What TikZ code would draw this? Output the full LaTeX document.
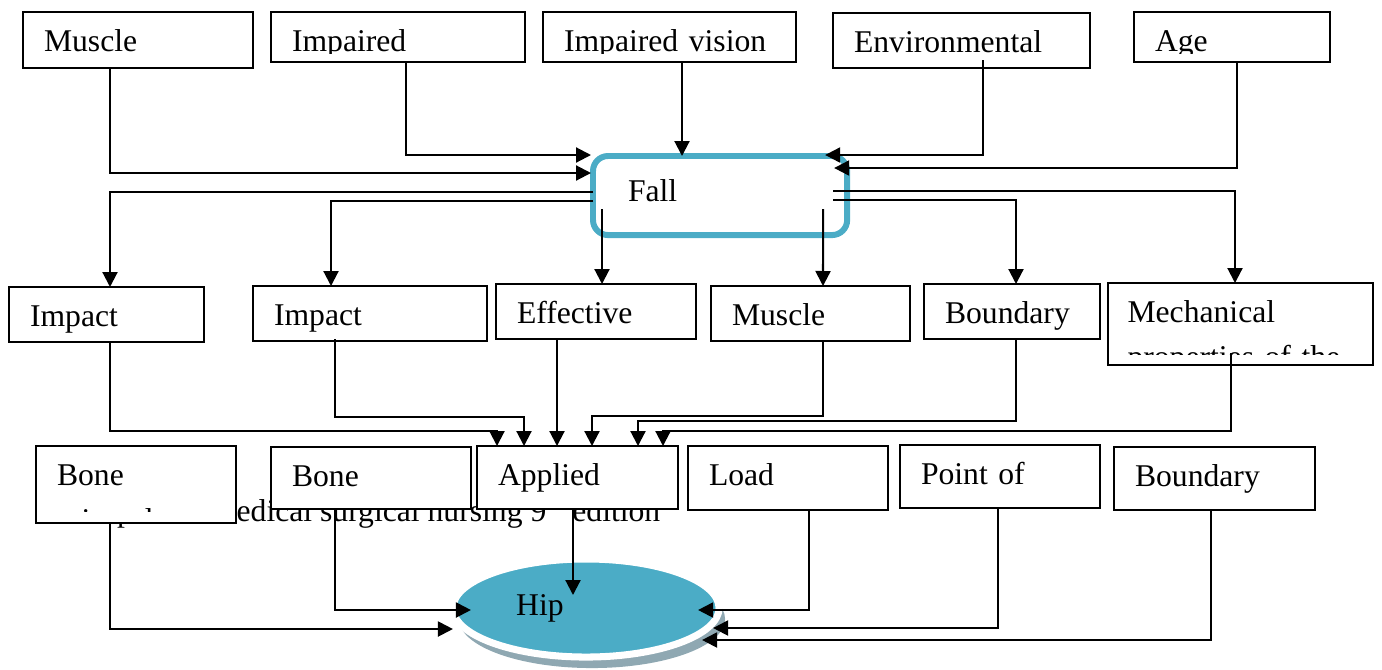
\documentclass[tikz,border=0pt]{standalone}
\usepackage{fontspec}
\setmainfont{Liberation Serif}
\usetikzlibrary{calc,positioning,arrows.meta,shapes.geometric,shadows}
\definecolor{hipblue}{HTML}{4BACC6}
\definecolor{hipshade}{HTML}{8FA8B2}
\tikzset{
    box/.style={draw, fill=white, line width=0.6pt, anchor=north west, outer sep=0pt,
                inner xsep=0.21cm, inner ysep=0pt, text height=0.39cm, align=left,
                font=\fontsize{9}{13}\selectfont},
    arr/.style={line width=0.6pt, -{Triangle[length=0.15cm,width=0.15cm]}},
}

\begin{document}
\begin{tikzpicture}[x=0.01cm, y=-0.01cm]
            \useasboundingbox (0,0) rectangle (1382,669);

            % source line, mostly hidden behind the boxes
            \node[anchor=base east, inner sep=0pt, font=\fontsize{9}{13}\selectfont] (src) at (661,521)
                {Adapted in medical surgical nursing 9\textsuperscript{th} edition};

            % top row, text frames cut the descenders
            \begin{scope}
                \clip (0,0) rectangle (1382,53);
                \node[box, text width=1.88cm, text depth=0.17cm] (muscA) at (23,12) {Muscle};
                \node[box, text width=2.12cm, text depth=0.11cm] (impA) at (271,12) {Impaired};
                \node[box, text width=2.11cm, text depth=0.11cm] (visn) at (543,12) {Impaired vision};
                \node[box, text width=2.15cm, text depth=0.16cm] (envr) at (833,13) {Environmental};
                \node[box, text width=1.54cm, text depth=0.11cm] (age) at (1134,12) {Age};
            \end{scope}

            \node[draw=hipblue, line width=1.7pt, rounded corners=0.15cm, anchor=north west, outer sep=0pt,
                  inner xsep=0.35cm, inner ysep=0pt, text width=1.84cm, text height=0.45cm, text depth=0.34cm,
                  align=left, font=\fontsize{9}{13}\selectfont] (fall) at (593,156) {Fall};

            % middle row
            \node[box, text width=1.53cm, text depth=0.16cm] (impB) at (9,287) {Impact};
            \node[box, text width=1.92cm, text depth=0.16cm] (impC) at (253,286) {Impact};
            \node[box, text width=1.58cm, text depth=0.16cm] (effc) at (496,284) {Effective};
            \node[box, text width=1.57cm, text depth=0.16cm] (muscB) at (711,286) {Muscle};
            \node[box, text width=1.34cm, text depth=0.16cm] (bndA) at (924,284) {Boundary};
            \begin{scope}
                \clip (1100,270) rectangle (1382,354);
                \node[box, inner xsep=0.195cm, text width=2.26cm, text depth=0.43cm] (mech) at (1108,283)
                    {Mechanical\\properties of the};
            \end{scope}

            % bottom row
            \begin{scope}
                \clip (0,430) rectangle (250,512);
                \node[box, text width=1.58cm, text depth=0.38cm] (boneA) at (36,446) {Bone\\mineral density};
            \end{scope}
            \fill[white] ($(boneA.south west)+(0,-11)$) rectangle (boneA.south east);
            \node[box, text width=1.58cm, text depth=0.23cm] (boneB) at (271,447) {Bone};
            \node[box, text width=1.59cm, text depth=0.24cm] (appl) at (477,446) {Applied};
            \node[box, text width=1.58cm, text depth=0.25cm] (load) at (688,446) {Load};
            \node[box, text width=1.58cm, text depth=0.24cm] (pnt) at (900,445) {Point of};
            \node[box, text width=1.59cm, text depth=0.24cm] (bndB) at (1114,447) {Boundary};

            \foreach \n in {muscA,impA,visn,envr,age,mech,boneA}
                \draw[line width=0.6pt] (\n.north west) rectangle (\n.south east);

            \node[ellipse, fill=hipblue, draw=white, line width=2pt, outer sep=0pt, inner sep=0pt,
                  minimum width=2.66cm, minimum height=0.98cm, font=\fontsize{9}{13}\selectfont,
                  drop shadow={shadow xshift=0.06cm, shadow yshift=-0.11cm, fill=hipshade, opacity=1}]
                  (hip) at (586,608) {Hip\rule{0.92cm}{0pt}};

            % into Fall
            \draw[arr] ($(muscA.south west)+(87,0)$) |- ($(fall.north west)+(-2,17)$);
            \draw[arr] ($(impA.south west)+(135,0)$) |- ($(fall.north west)+(-2,-1)$);
            \draw[arr] ($(visn.south west)+(139,0)$) -- ($(fall.north west)+(89,0)$);
            \draw[arr] ($(envr.south west)+(150,-8)$) |- ($(fall.north east)+(-22,-1)$);
            \draw[arr] ($(age.south west)+(103,0)$) |- ($(fall.north east)+(-13,12)$);

            % out of Fall
            \draw[arr] ($(fall.north west)+(0,36)$) -| ($(impB.north west)+(101,0)$);
            \draw[arr] ($(fall.north west)+(0,45)$) -| ($(impC.north west)+(78,0)$);
            \draw[arr] ($(fall.north west)+(9,53)$) -- ($(effc.north west)+(106,0)$);
            \draw[arr] ($(fall.north east)+(-24,53)$) -- ($(muscB.north west)+(112,0)$);
            \draw[arr] ($(fall.north east)+(-14,44)$) -| ($(bndA.north west)+(92,0)$);
            \draw[arr] ($(fall.north east)+(-14,35)$) -| ($(mech.north west)+(127,0)$);

            % into Applied
            \draw[arr] ($(impB.south west)+(101,0)$) |- ($(appl.north west)+(20,-15)$) -- ($(appl.north west)+(20,0)$);
            \draw[arr] ($(impC.south west)+(82,-2)$) |- ($(appl.north west)+(47,-29)$) -- ($(appl.north west)+(47,0)$);
            \draw[arr] ($(effc.south west)+(61,0)$) -- ($(appl.north west)+(80,0)$);
            \draw[arr] ($(muscB.south west)+(112,0)$) |- ($(appl.north west)+(115,-30)$) -- ($(appl.north west)+(115,0)$);
            \draw[arr] ($(bndA.south west)+(92,0)$) |- ($(appl.north west)+(161,-25)$) -- ($(appl.north west)+(161,0)$);
            \draw[arr] ($(mech.south west)+(123,-12)$) |- ($(appl.north west)+(186,-15)$) -- ($(appl.north west)+(186,0)$);

            % into Hip
            \draw[arr] ($(boneA.south west)+(74,0)$) |- ($(hip.west)+(0,21)$);
            \draw[arr] ($(boneB.south west)+(64,0)$) |- ($(hip.west)+(18,2)$);
            \draw[arr] ($(appl.south west)+(96,0)$) -- ($(hip.center)+(-13,-13)$);
            \draw[arr] ($(load.south west)+(121,0)$) |- ($(hip.east)+(-21,2)$);
            \draw[arr] ($(pnt.south west)+(98,0)$) |- ($(hip.east)+(-6,20)$);
            \draw[arr] ($(bndB.south west)+(97,0)$) |- ($(hip.east)+(-17,32)$);

        \end{tikzpicture}
\end{document}
